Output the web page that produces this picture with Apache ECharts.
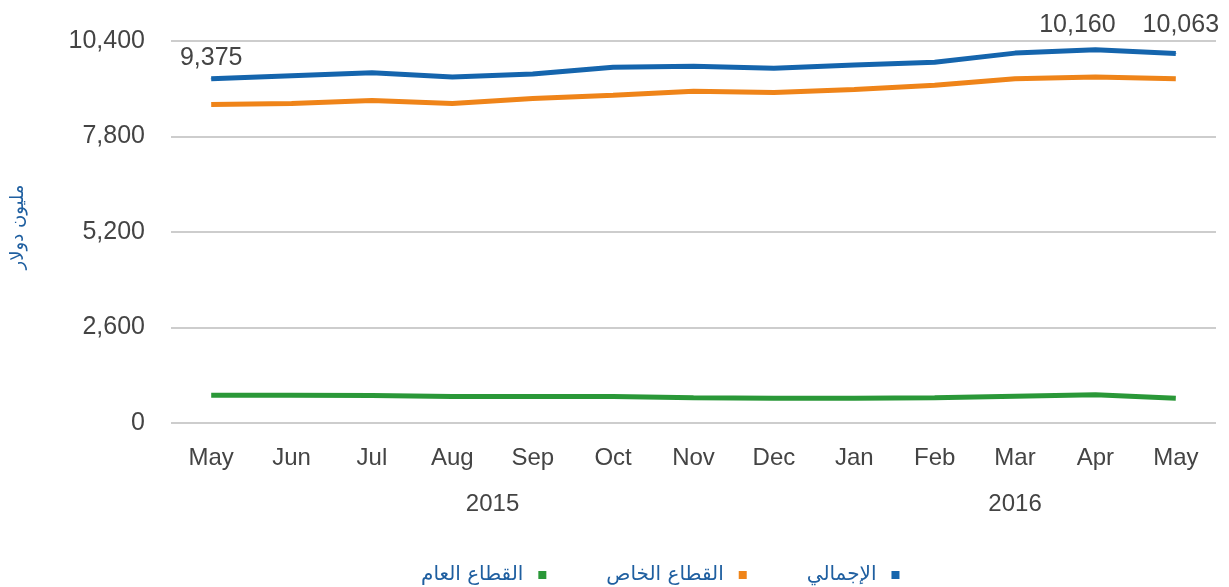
<!DOCTYPE html>
<html>
<head>
<meta charset="utf-8">
<script src="https://cdn.jsdelivr.net/npm/echarts@6/dist/echarts.min.js"></script>
<style>html,body{margin:0;padding:0;background:#fff}#c{width:1229px;height:587px}</style>
</head>
<body>
<div id="c"></div>
<script>
const months = ['May','Jun','Jul','Aug','Sep','Oct','Nov','Dec','Jan','Feb','Mar','Apr','May'];
const yearLabels = ['2015','2016'];
const yearPositions = [3.5, 10];
const totalName = 'الإجمالي';
const privateName = 'القطاع الخاص';
const publicName = 'القطاع العام';
const totalValues = [9375, 9455, 9535, 9420, 9500, 9687, 9714, 9660, 9749, 9821, 10070, 10160, 10063];
const privateValues = [8671, 8696, 8779, 8698, 8833, 8925, 9033, 8995, 9082, 9196, 9374, 9420, 9374];
const publicValues = [758, 758, 750, 723, 723, 723, 685, 677, 677, 685, 731, 766, 677];
const yTicks = [0, 2600, 5200, 7800, 10400];
// index -> [distance above point, horizontal shift]
const labelledPoints = {0: [8, 0], 11: [12, -18], 12: [15, 5]};

const chart = echarts.init(document.getElementById('c'));
const txt = '#444';
const arFont = 'DejaVu Sans';
const numFont = 'Liberation Sans';
function totalData() {
  return totalValues.map((v, i) => labelledPoints[i] !== undefined ? {
    value: v,
    symbol: 'circle', symbolSize: 1,
    label: {show: true, position: 'top', distance: labelledPoints[i][0], offset: [labelledPoints[i][1], 0],
      fontSize: 25, color: txt, fontFamily: numFont,
      formatter: p => p.value.toLocaleString('en-US')}
  } : {value: v, symbol: 'none'});
}
chart.setOption({
  animation: false,
  grid: {left: 171, right: 13, top: 41, bottom: 164},
  xAxis: [{
    type: 'category', data: months, boundaryGap: true,
    axisLine: {show: false}, axisTick: {show: false},
    axisLabel: {interval: 0, fontSize: 24, color: txt, margin: 23, fontFamily: numFont}
  }, {
    type: 'value', min: -0.5, max: months.length - 0.5, position: 'bottom', offset: 46,
    axisLine: {show: false}, axisTick: {show: false}, splitLine: {show: false},
    axisLabel: {customValues: yearPositions, fontSize: 24, color: txt, margin: 23, fontFamily: numFont,
      formatter: v => yearLabels[yearPositions.indexOf(v)]}
  }],
  yAxis: {
    type: 'value', min: yTicks[0], max: yTicks[yTicks.length - 1], interval: yTicks[1] - yTicks[0],
    name: 'مليون دولار', nameLocation: 'middle', nameGap: 144,
    nameTextStyle: {color: '#1f5fa0', fontSize: 18, fontFamily: arFont, padding: [0, 0, 0, 10]},
    axisLine: {show: false}, axisTick: {show: false},
    axisLabel: {fontSize: 25, color: txt, margin: 26, fontFamily: numFont,
      formatter: v => v.toLocaleString('en-US')},
    splitLine: {lineStyle: {color: '#bdbdbd', width: 1.5}}
  },
  legend: {
    data: [publicName, privateName, totalName],
    left: 416, top: 560, align: 'right', itemGap: 60,
    icon: 'rect', itemWidth: 8, itemHeight: 8,
    textStyle: {color: '#1f5fa0', fontSize: 20, fontFamily: arFont, padding: [0, 10, 0, 0]}
  },
  series: [{
    name: publicName, type: 'line', data: publicValues, xAxisIndex: 0,
    symbol: 'none', lineStyle: {width: 5, color: '#2a9838'}, itemStyle: {color: '#2a9838'}
  }, {
    name: privateName, type: 'line', data: privateValues, xAxisIndex: 0,
    symbol: 'none', lineStyle: {width: 5, color: '#ef8419'}, itemStyle: {color: '#ef8419'}
  }, {
    name: totalName, type: 'line', data: totalData(), xAxisIndex: 0, showSymbol: true,
    lineStyle: {width: 5, color: '#1565ad'}, itemStyle: {color: '#1565ad'}
  }]
});
</script>
</body>
</html>
